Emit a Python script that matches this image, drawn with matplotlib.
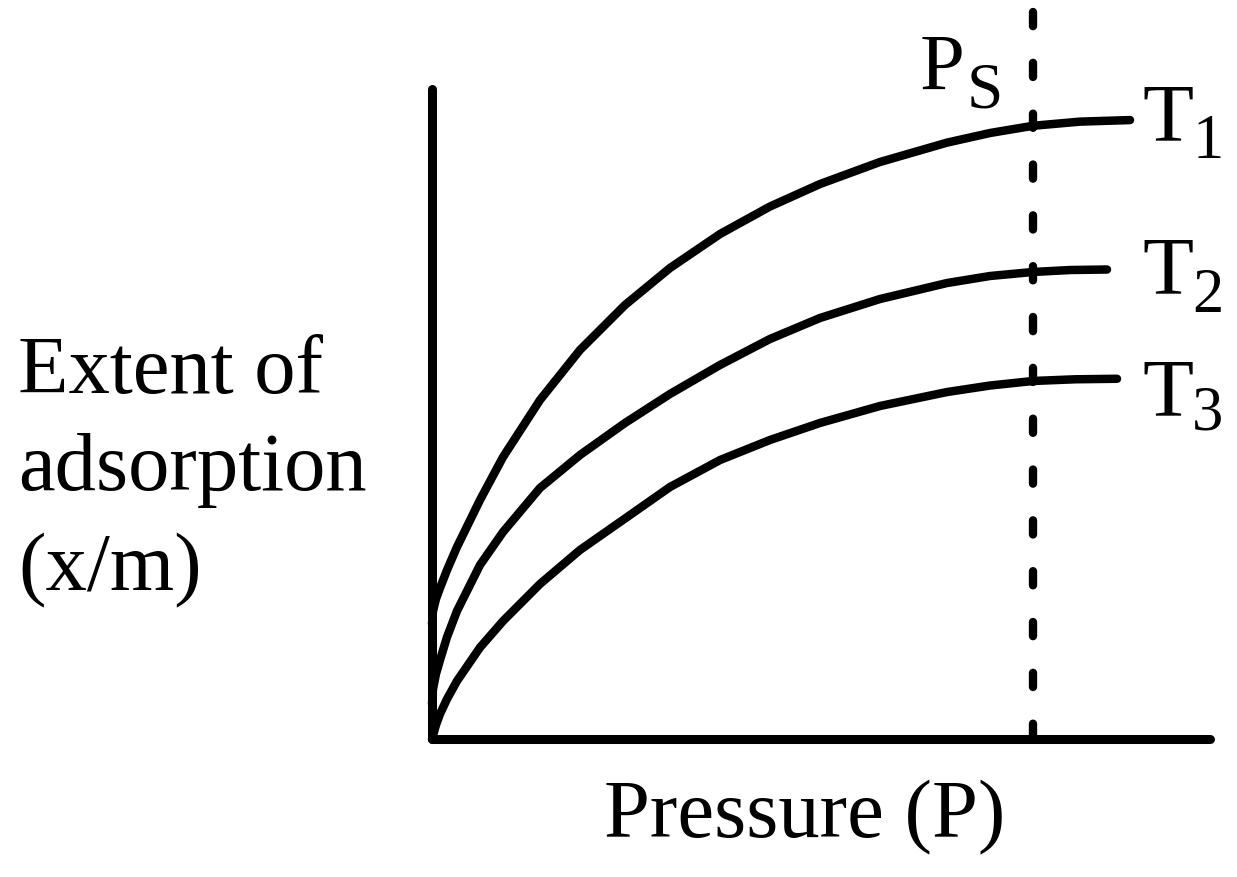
import numpy as np
import matplotlib.pyplot as plt

plt.rcParams['font.family'] = ['Liberation Serif', 'DejaVu Serif']

# pressure (arbitrary units) and extent of adsorption
p_t1 = [0.0, 0.013, 0.051, 0.103, 0.193, 0.321, 0.617, 0.913, 1.388, 1.902, 2.481,
        3.059, 3.702, 4.344, 4.987, 5.758, 6.620, 7.172, 7.725, 8.329, 8.972]
x_t1 = [1.769, 1.969, 2.154, 2.323, 2.600, 2.954, 3.677, 4.338, 5.215, 5.985, 6.677,
        7.246, 7.769, 8.192, 8.538, 8.877, 9.175, 9.323, 9.434, 9.498, 9.522]

p_t2 = [0.0, 0.013, 0.051, 0.103, 0.193, 0.321, 0.617, 0.913, 1.388, 1.902, 2.481,
        3.059, 3.702, 4.344, 4.987, 5.758, 6.620, 7.172, 7.725, 8.201, 8.676]
x_t2 = [0.538, 0.769, 1.000, 1.215, 1.569, 1.969, 2.677, 3.185, 3.862, 4.369, 4.862,
        5.308, 5.754, 6.154, 6.477, 6.769, 7.015, 7.123, 7.185, 7.215, 7.223]

p_t3 = [0.0, 0.051, 0.103, 0.193, 0.321, 0.617, 0.913, 1.388, 1.902, 2.481,
        3.059, 3.702, 4.344, 4.987, 5.758, 6.620, 7.172, 7.725, 8.265, 8.805]
x_t3 = [0.0, 0.215, 0.385, 0.615, 0.892, 1.408, 1.815, 2.385, 2.908, 3.392,
        3.877, 4.292, 4.600, 4.862, 5.123, 5.338, 5.438, 5.508, 5.534, 5.542]

p_sat = 7.725
curve_labels = ['1', '2', '3']

W, H = 1237, 878


def fx(x):
    return x / W


def fy(y):
    return 1 - y / H


fig = plt.figure(figsize=(W / 100, H / 100), dpi=100)
ax = fig.add_axes([fx(432), fy(740), (1210 - 432) / W, (740 - 90) / H])
ax.set_xlim(0, 10)
ax.set_ylim(0, 10)

lw = 6.1
for p, x in [(p_t1, x_t1), (p_t2, x_t2), (p_t3, x_t3)]:
    ax.plot(p, x, color='black', lw=lw, solid_capstyle='round',
            solid_joinstyle='round', clip_on=False)

# saturation pressure line, drawn from the top down
ax.plot([p_sat, p_sat], [11.18, 0], color='black', lw=6.0,
        linestyle=(0, (1.7, 4.4)), dash_capstyle='round', clip_on=False)

for s in ['top', 'right']:
    ax.spines[s].set_visible(False)
for s in ['left', 'bottom']:
    ax.spines[s].set_linewidth(6.5)
    ax.spines[s].set_capstyle('round')
ax.set_xticks([])
ax.set_yticks([])

big = 59.5
fig.text(fx(920), fy(90), 'P', fontsize=58, va='baseline')
fig.text(fx(967), fy(108), 'S', fontsize=47, va='baseline')

t_base = [140, 293, 415]
s_base = [158, 312, 430]
for lab, tb, sb in zip(curve_labels, t_base, s_base):
    fig.text(fx(1142), fy(tb), 'T', fontsize=60, va='baseline')
    fig.text(fx(1192), fy(sb), lab, fontsize=45, va='baseline')

fig.text(fx(805), fy(837), 'Pressure (P)', fontsize=big, ha='center', va='baseline')
for line, b in zip(['Extent of', 'adsorption', '(x/m)'], [393, 490, 590]):
    fig.text(fx(18), fy(b), line, fontsize=big, va='baseline')

plt.savefig('out.png', dpi=100)
